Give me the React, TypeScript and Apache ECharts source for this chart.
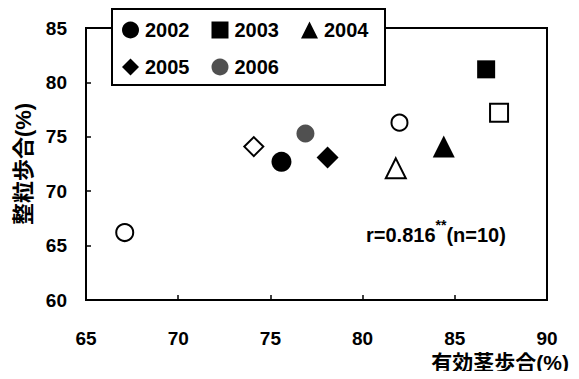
import React, { useEffect, useRef } from "react";
import * as echarts from "echarts";

const years = ["2002", "2003", "2004", "2005", "2006"];
const filledPoints: number[][] = [
  [75.6, 72.7],
  [86.7, 81.2],
  [84.4, 74.1],
  [78.1, 73.1],
  [76.9, 75.3],
];
const openPoints: number[][] = [
  [67.1, 66.2],
  [87.4, 77.2],
  [81.8, 72.1],
  [74.1, 74.1],
  [82.0, 76.3],
];
const symbols = ["circle", "rect", "triangle", "diamond", "circle"];
const filledSizes = [20, 18, 22, 22, 18];
const openSizes = [17, 18, 20, 19, 16];
const filledColors = ["#000", "#000", "#000", "#000", "#505050"];
const xTicks = [65, 70, 75, 80, 85, 90];
const yTicks = [60, 65, 70, 75, 80, 85];
const xName = "有効茎歩合(%)";
const yName = "整粒歩合(%)";
const annotation = { r: "r=0.816", stars: "**", n: "(n=10)" };

const FONT = "Liberation Sans, Arial, Noto Sans CJK JP, sans-serif";

export default function App() {
  const ref = useRef<HTMLDivElement>(null);
  useEffect(() => {
    if (!ref.current) return;
    const chart = echarts.init(ref.current, null, { renderer: "svg" });
    const series: any[] = [];
    years.forEach((y, i) => {
      series.push({
        name: y,
        type: "scatter",
        data: [filledPoints[i]],
        symbol: symbols[i],
        symbolSize: filledSizes[i],
        itemStyle: { color: filledColors[i], opacity: 1 },
        z: 5,
      });
    });
    years.forEach((y, i) => {
      series.push({
        name: y + " open",
        type: "scatter",
        data: [openPoints[i]],
        symbol: symbols[i],
        symbolSize: openSizes[i],
        itemStyle: { color: "#fff", borderColor: "#000", borderWidth: 2, opacity: 1 },
        z: 4,
      });
    });
    const legendCommon = {
      orient: "horizontal",
      itemWidth: 17,
      itemHeight: 17,
      itemGap: 22,
      padding: 0,
      textStyle: { fontFamily: FONT, fontSize: 20, fontWeight: "bold", color: "#000", padding: [0, 0, 0, 1] },
      z: 20,
    };
    chart.setOption({
      animation: false,
      textStyle: { fontFamily: FONT },
      grid: {
        left: 86,
        right: 32,
        top: 28,
        bottom: 79,
        show: true,
        borderColor: "#000",
        borderWidth: 2,
        backgroundColor: "#fff",
      },
      xAxis: {
        type: "value",
        min: xTicks[0],
        max: xTicks[xTicks.length - 1],
        interval: 5,
        name: xName,
        nameLocation: "end",
        nameGap: 22,
        nameTextStyle: {
          fontFamily: FONT,
          fontSize: 21,
          fontWeight: "bold",
          color: "#000",
          align: "right",
          verticalAlign: "top",
          padding: [52, 0, 0, 0],
        },
        axisLine: { show: true, lineStyle: { color: "#000", width: 2 } },
        axisTick: { show: true, inside: true, length: 5, lineStyle: { color: "#000", width: 1.5 } },
        axisLabel: { fontFamily: FONT, fontSize: 19, fontWeight: "bold", color: "#000", margin: 29 },
        splitLine: { show: false },
      },
      yAxis: {
        type: "value",
        min: yTicks[0],
        max: yTicks[yTicks.length - 1],
        interval: 5,
        name: yName,
        nameLocation: "middle",
        nameRotate: 90,
        nameGap: 51,
        nameTextStyle: { fontFamily: FONT, fontSize: 22, fontWeight: "bold", color: "#000" },
        axisLine: { show: true, lineStyle: { color: "#000", width: 2 } },
        axisTick: { show: true, inside: true, length: 5, lineStyle: { color: "#000", width: 1.5 } },
        axisLabel: { fontFamily: FONT, fontSize: 19, fontWeight: "bold", color: "#000", margin: 19 },
        splitLine: { show: false },
      },
      legend: [
        { ...legendCommon, data: years.slice(0, 3), left: 122, top: 20 },
        { ...legendCommon, data: years.slice(3), left: 122, top: 57 },
      ],
      graphic: [
        {
          type: "rect",
          shape: { x: 112, y: 9, width: 273, height: 76 },
          style: { fill: "#fff", stroke: "#000", lineWidth: 2 },
          z: 10,
        },
        {
          type: "text",
          left: 366,
          top: 218,
          style: {
            text: `{a|${annotation.r}}{s|${annotation.stars}}{a|${annotation.n}}`,
            rich: {
              a: { fontFamily: FONT, fontSize: 20, fontWeight: "bold", fill: "#000", verticalAlign: "bottom", height: 26 },
              s: { fontFamily: FONT, fontSize: 14, fontWeight: "bold", fill: "#000", verticalAlign: "bottom", height: 26, padding: [0, 0, 10, 0] },
            },
          },
          z: 10,
        },
      ],
      series,
    });
    return () => chart.dispose();
  }, []);
  return <div ref={ref} style={{ width: 579, height: 379, margin: -8 }} />;
}
